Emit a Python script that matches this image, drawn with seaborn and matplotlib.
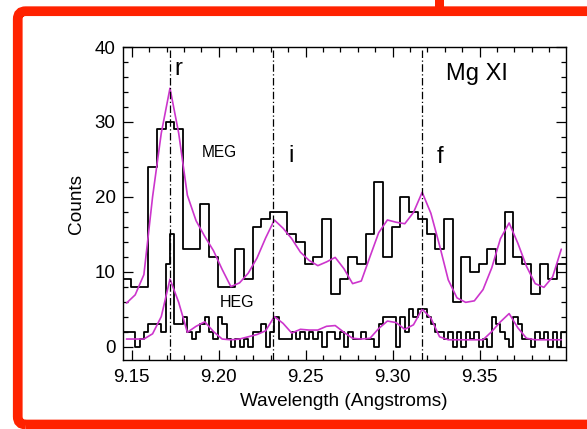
import numpy as np
import pandas as pd
import matplotlib
matplotlib.use("Agg")
import matplotlib.pyplot as plt
import seaborn as sns
from matplotlib.patches import FancyBboxPatch, Rectangle
from matplotlib.ticker import MultipleLocator, FixedLocator

# ---------------- data ----------------
bin_start = 9.1445          # left edge of first bin (Angstrom)
meg_width = 0.005
heg_width = 0.0025

meg_counts = [9, 8, 8, 24, 29, 30, 29, 13, 13, 19, 12, 8, 8, 13, 9, 16, 17, 18, 18, 15,
              14, 11, 12, 17, 7, 9, 12, 11, 15, 22, 12, 16, 20, 18, 17, 15, 13, 17, 6, 12,
              10, 11, 13, 11, 18, 12, 11, 7, 11, 9, 11]

heg_counts = [2, 2, 2, 0, 1, 2, 3, 3, 3, 2,
              11, 15, 3, 3, 4, 2, 1, 2, 3, 4,
              2, 1, 4, 3, 1, 0, 1, 0, 1, 0,
              2, 2, 3, 0, 2, 4, 1, 1, 1, 2,
              1, 2, 1, 2, 1, 2, 0, 2, 2, 1,
              2, 0, 2, 1, 1, 2, 1, 1, 0, 3,
              4, 4, 4, 0, 4, 2, 5, 4, 5, 5,
              4, 3, 2, 2, 1, 2, 0, 2, 0, 2,
              1, 2, 0, 1, 0, 4, 3, 2, 1, 0,
              4, 3, 1, 1, 0, 2, 1, 2, 0, 2, 0, 2]

meg_model = [5.8, 6.9, 9.6, 20, 28.5, 34.5, 28.5, 20.2, 16.8, 14.7,
             12.8, 10.3, 8.0, 8.5, 9.8, 11.8, 14.5, 16.9, 15.8, 14.4,
             12.6, 11.5, 10.8, 11.3, 11.9, 10.4, 8.4, 8.75, 12.0, 15.2,
             16.9, 16.6, 16.4, 17.9, 20.6, 17.8, 13.5, 8.9, 6.5, 5.9,
             6.1, 7.6, 10.5, 14.4, 16.5, 13.8, 10.7, 8.4, 7.9, 9.3, 13.0]

heg_model = [1.0, 1.0, 1.0, 1.7, 4.0, 9.0, 5.9, 1.9, 2.7, 3.3,
             2.0, 1.0, 0.9, 1.0, 1.3, 1.6, 2.1, 4.0, 3.1, 1.8,
             2.3, 2.2, 2.2, 2.7, 2.8, 1.9, 1.1, 1.0, 1.1, 2.4,
             3.4, 3.2, 2.3, 2.9, 5.0, 3.8, 1.3, 0.9, 0.9, 0.9,
             0.9, 0.9, 2.0, 3.3, 4.4, 2.5, 1.1, 0.9, 0.9, 0.9, 0.9]

line_names = ["r", "i", "f"]
line_waves = [9.172, 9.231, 9.317]

x_ticks = [9.15, 9.20, 9.25, 9.30, 9.35]
x_tick_labels = ["9.15", "9.20", "9.25", "9.30", "9.35"]
y_ticks = [0, 10, 20, 30, 40]

# ---------------- style ----------------
sns.set_style("white")
plt.rcParams["font.family"] = ["Liberation Sans", "DejaVu Sans"]
plt.rcParams["text.color"] = "black"
plt.rcParams["axes.labelcolor"] = "black"
plt.rcParams["xtick.color"] = "black"
plt.rcParams["ytick.color"] = "black"

W, H = 587, 429
fig = plt.figure(figsize=(W / 100, H / 100), dpi=100)
fig.patch.set_facecolor("white")
ax = fig.add_axes([122.5 / W, 1 - 360 / H, (566 - 122.5) / W, (360 - 47) / H])

mag = "#cc35cc"

meg_edges = bin_start + meg_width * np.arange(len(meg_counts) + 1)
meg_centers = meg_edges[:-1] + meg_width / 2
heg_edges = bin_start + heg_width * np.arange(len(heg_counts) + 1)
heg_centers = heg_edges[:-1] + heg_width / 2

meg_df = pd.DataFrame({"wave": meg_centers, "counts": meg_counts,
                       "meg_model": meg_model, "heg_model": heg_model})
heg_df = pd.DataFrame({"wave": heg_centers, "counts": heg_counts})

sns.histplot(data=meg_df, x="wave", weights="counts", bins=list(meg_edges),
             element="step", fill=False, color="black", linewidth=1.3, ax=ax)
sns.histplot(data=heg_df, x="wave", weights="counts", bins=list(heg_edges),
             element="step", fill=False, color="black", linewidth=1.3, ax=ax)
sns.lineplot(data=meg_df, x="wave", y="meg_model", color=mag, linewidth=1.2, ax=ax)
sns.lineplot(data=meg_df, x="wave", y="heg_model", color=mag, linewidth=1.2, ax=ax)

for w in line_waves:
    ax.axvline(w, color="black", linewidth=0.9, linestyle=(0, (6, 2, 1, 2)))

ax.set_xlim(9.1447, 9.3997)
ax.set_ylim(-1.8, 40)

ax.xaxis.set_major_locator(FixedLocator(x_ticks))
ax.set_xticklabels(x_tick_labels)
ax.xaxis.set_minor_locator(MultipleLocator(0.01))
ax.yaxis.set_major_locator(FixedLocator(y_ticks))
ax.yaxis.set_minor_locator(MultipleLocator(2))
ax.tick_params(which="both", direction="in", top=True, right=True,
               bottom=True, left=True, width=0.9, color="black",
               labelsize=13.5, labelcolor="black")
ax.tick_params(axis="x", pad=6.5)
ax.tick_params(axis="y", pad=5)
ax.tick_params(which="major", length=7)
ax.tick_params(which="minor", length=3.5)
for s in ax.spines.values():
    s.set_linewidth(1.0)
    s.set_color("black")

ax.set_xlabel("Wavelength (Angstroms)", fontsize=13.7, labelpad=5, color="black")
ax.set_ylabel("Counts", fontsize=13.7, labelpad=7, color="black")

# line labels
ax.text(9.1769, 37.1, line_names[0], fontsize=17, ha="center", va="center")
ax.text(9.2416, 25.5, line_names[1], fontsize=17, ha="center", va="center")
ax.text(9.3273, 25.3, line_names[2], fontsize=17, ha="center", va="center")
ax.text(9.3484, 36.4, "Mg XI", fontsize=17, ha="center", va="center")
ax.text(9.2006, 25.9, "MEG", fontsize=11.2, ha="center", va="center")
ax.text(9.2105, 5.85, "HEG", fontsize=11.5, ha="center", va="center")

# red frame around the figure
red = "#ff2200"
frame = FancyBboxPatch((17.75 / 100, (H - 424.5) / 100), (700 - 17.75) / 100,
                       (424.5 - 11.2) / 100,
                       boxstyle="round,pad=0,rounding_size=0.08",
                       transform=fig.dpi_scale_trans, fill=False,
                       edgecolor=red, linewidth=7.0)
fig.add_artist(frame)
fig.add_artist(Rectangle((434.5 / 100, (H - 12) / 100), 9.3 / 100, 12 / 100,
                         transform=fig.dpi_scale_trans, color=red, lw=0))

fig.savefig("out.png", dpi=100)
